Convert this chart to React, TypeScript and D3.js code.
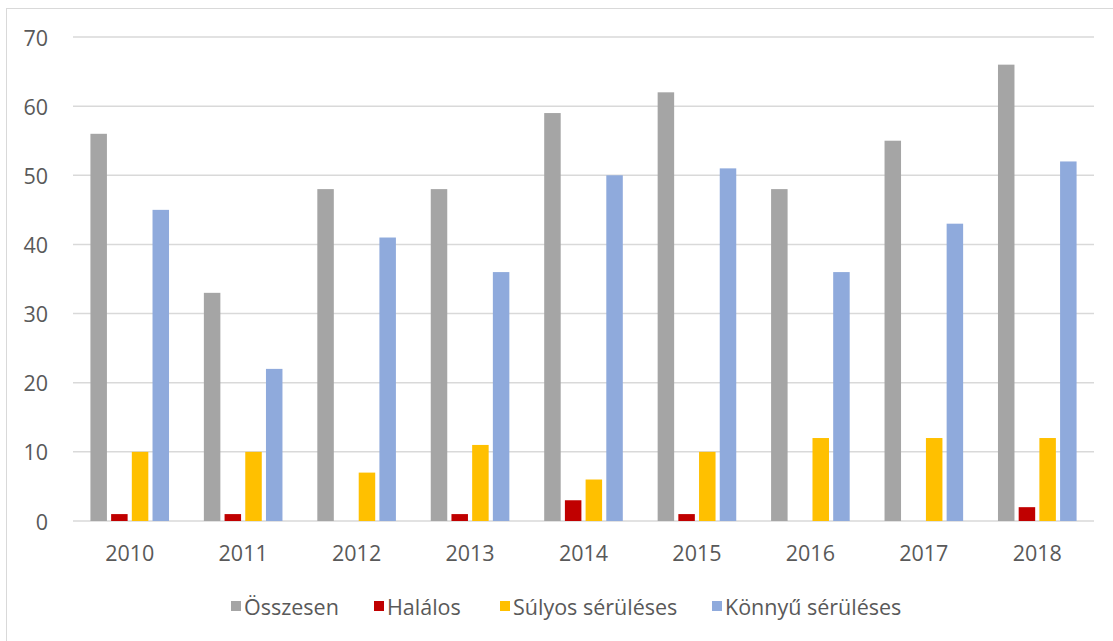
import React from "react";
import * as d3 from "d3";

const categories = ["2010", "2011", "2012", "2013", "2014", "2015", "2016", "2017", "2018"];
const seriesNames = ["Összesen", "Halálos", "Súlyos sérüléses", "Könnyű sérüléses"];
const osszesen = [56, 33, 48, 48, 59, 62, 48, 55, 66];
const halalos = [1, 1, 0, 1, 3, 1, 0, 0, 2];
const sulyos = [10, 10, 7, 11, 6, 10, 12, 12, 12];
const konnyu = [45, 22, 41, 36, 50, 51, 36, 43, 52];
const yTicks = [0, 10, 20, 30, 40, 50, 60, 70];
const colors = ["#a5a5a5", "#c00000", "#ffc000", "#8faadc"];

const W = 1113;
const H = 641;
const FONT = "'Open Sans', 'Liberation Sans', sans-serif";

export default function App() {
  const seriesValues = [osszesen, halalos, sulyos, konnyu];
  const plotLeft = 73;
  const plotRight = 1094;
  const y = d3.scaleLinear().domain([0, 70]).range([521, 37]);
  const x0 = d3.scaleBand<string>().domain(categories).range([plotLeft, plotRight]).paddingInner(0).paddingOuter(0);
  const pitch = 20.7;
  const barW = 16.5;
  const x1 = d3.scaleBand<string>().domain(seriesNames).range([0, pitch * 4]);

  // legend layout
  const legendX = [231, 374, 500, 712];

  return (
    <div style={{ position: "fixed", left: 0, top: 0, width: W, height: H, background: "#fff" }}>
      <svg width={W} height={H} style={{ display: "block" }}>
        <rect x={0} y={0} width={W} height={H} fill="#ffffff" />
        <rect x={6.5} y={8.5} width={W + 20} height={H + 20} fill="none" stroke="#d9d9d9" strokeWidth={1} />
        {yTicks.map((t) => (
          <g key={t}>
            <line x1={plotLeft} x2={plotRight} y1={y(t)} y2={y(t)} stroke="#d9d9d9" strokeWidth={1.5} />
            <text
              x={48}
              y={y(t)}
              textAnchor="end"
              dominantBaseline="central"
              fontFamily={FONT}
              fontSize={21.5}
              fill="#595959"
            >
              {t}
            </text>
          </g>
        ))}
        {categories.map((c, ci) => {
          const cx = (x0(c) as number) + x0.bandwidth() / 2;
          const start = cx - (pitch * 4) / 2;
          return (
            <g key={c}>
              {seriesNames.map((s, si) => {
                const v = seriesValues[si][ci];
                if (v <= 0) return null;
                const bx = start + (x1(s) as number) + (pitch - barW) / 2;
                return (
                  <rect
                    key={s}
                    x={bx}
                    y={y(v)}
                    width={barW}
                    height={y(0) - y(v)}
                    fill={colors[si]}
                  />
                );
              })}
              <text
                x={cx}
                y={561}
                textAnchor="middle"
                fontFamily={FONT}
                fontSize={21.5}
                fill="#595959"
              >
                {c}
              </text>
            </g>
          );
        })}
        {seriesNames.map((s, si) => (
          <g key={s}>
            <rect x={legendX[si]} y={601} width={10} height={10} fill={colors[si]} />
            <text
              x={legendX[si] + 13}
              y={606}
              dominantBaseline="central"
              fontFamily={FONT}
              fontSize={21.5}
              fill="#595959"
            >
              {s}
            </text>
          </g>
        ))}
      </svg>
    </div>
  );
}
